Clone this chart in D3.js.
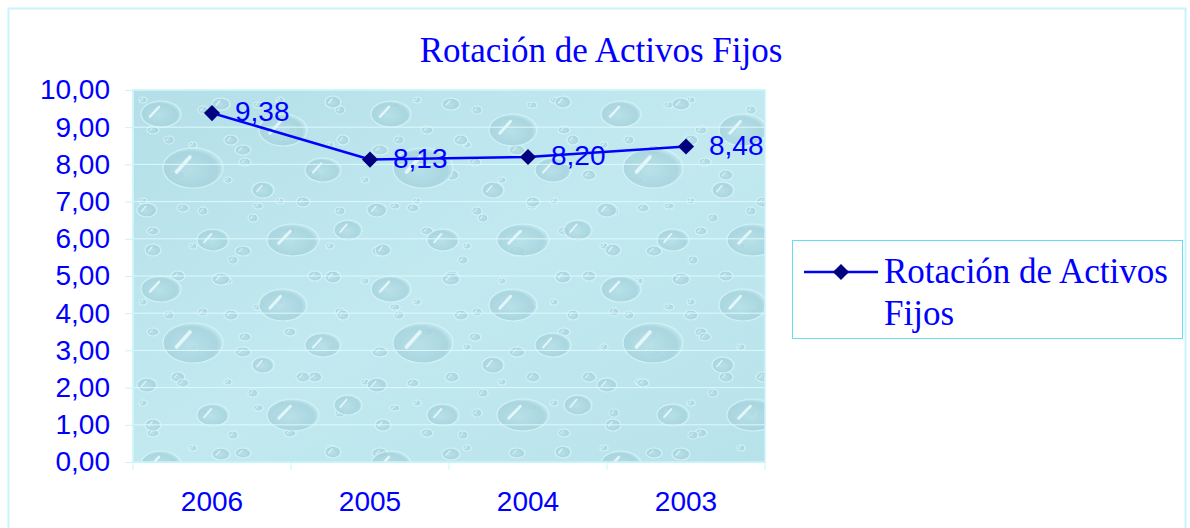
<!DOCTYPE html>
<html>
<head>
<meta charset="utf-8">
<script src="https://cdnjs.cloudflare.com/ajax/libs/d3/7.8.5/d3.min.js"></script>
<style>
  body { margin: 0; background: #fff; }
  svg { display: block; }
</style>
</head>
<body>
<div id="chart"></div>
<script>
var years = ["2006", "2005", "2004", "2003"];
var values = [9.38, 8.13, 8.20, 8.48];
var yTicks = [0, 1, 2, 3, 4, 5, 6, 7, 8, 9, 10];
var seriesName = "Rotación de Activos Fijos";

var svgWidth = 1190;
var svgHeight = 528;

var margin = { top: 90, left: 133, right: 425, bottom: 66 };
var chartWidth = svgWidth - margin.left - margin.right;
var chartHeight = svgHeight - margin.top - margin.bottom;

var blue = "#0000ff";
var navy = "#000080";
var sans = "'Liberation Sans', Arial, sans-serif";
var serif = "'Liberation Serif', 'Times New Roman', serif";
var fmt = function(v) { return d3.format(".2f")(v).replace(".", ","); };

var svg = d3.select("#chart")
  .append("svg")
  .attr("width", svgWidth)
  .attr("height", svgHeight);

// water drop texture (decoration only)
var defs = svg.append("defs");
var grad = defs.append("linearGradient").attr("id", "bg")
  .attr("x1", 0).attr("y1", 0).attr("x2", 1).attr("y2", 1);
grad.append("stop").attr("offset", "0%").attr("stop-color", "#b4dfe8");
grad.append("stop").attr("offset", "50%").attr("stop-color", "#c2e9f0");
grad.append("stop").attr("offset", "100%").attr("stop-color", "#b8e2ea");

var drop = defs.append("radialGradient").attr("id", "drop")
  .attr("cx", "45%").attr("cy", "55%").attr("r", "60%");
drop.append("stop").attr("offset", "0%").attr("stop-color", "#b6dfe7");
drop.append("stop").attr("offset", "75%").attr("stop-color", "#a4d2dc");
drop.append("stop").attr("offset", "100%").attr("stop-color", "#d2f2f7");

function addDropPattern(id, w, h, list) {
  var pat = defs.append("pattern").attr("id", id)
    .attr("patternUnits", "userSpaceOnUse")
    .attr("width", w).attr("height", h);
  list.forEach(function(d) {
    pat.append("ellipse").attr("cx", d[0]).attr("cy", d[1]).attr("rx", d[2]).attr("ry", d[3])
      .attr("fill", "url(#drop)").attr("stroke", "#d6f5f9").attr("stroke-width", 1.2)
      .attr("opacity", 0.8);
    pat.append("path")
      .attr("d", `M${d[0] - d[2] * 0.55},${d[1] + d[3] * 0.2} L${d[0] - d[2] * 0.1},${d[1] - d[3] * 0.55}`)
      .attr("fill", "none").attr("stroke", "#f0fdff").attr("stroke-width", Math.max(1, d[3] * 0.18))
      .attr("stroke-linecap", "round").attr("opacity", 0.8);
  });
}
addDropPattern("drops", 230, 175, [
  [28, 24, 20, 13], [88, 14, 9, 6], [150, 40, 24, 16], [60, 78, 30, 20],
  [130, 100, 11, 8], [14, 120, 10, 7], [98, 50, 7, 5], [200, 12, 8, 6],
  [36, 50, 5, 4], [112, 72, 6, 4], [190, 80, 18, 12], [215, 140, 14, 10],
  [160, 150, 26, 16], [80, 150, 16, 11], [20, 160, 8, 6], [120, 128, 5, 4],
  [210, 50, 6, 5], [170, 112, 7, 5], [50, 118, 6, 4], [100, 170, 5, 4]
]);
addDropPattern("drops2", 137, 101, [
  [20, 40, 6, 4], [70, 20, 5, 4], [110, 60, 8, 5], [45, 85, 7, 5],
  [95, 90, 4, 3], [125, 15, 5, 3], [10, 10, 4, 3], [60, 55, 4, 3]
]);

// outer frame
svg.append("rect")
  .attr("x", 8.5).attr("y", 8.5)
  .attr("width", 1177).attr("height", 530)
  .attr("fill", "none")
  .attr("stroke", "#c8f6fa")
  .attr("stroke-width", 2);

svg.append("text")
  .attr("x", 601)
  .attr("y", 62)
  .attr("text-anchor", "middle")
  .attr("font-family", serif)
  .attr("font-size", "35px")
  .attr("fill", blue)
  .text(seriesName);

var chartGroup = svg.append("g")
  .attr("transform", `translate(${margin.left}, ${margin.top})`);

var xBandScale = d3.scaleBand()
  .domain(years)
  .range([0, chartWidth]);

var yLinearScale = d3.scaleLinear()
  .domain([0, 10])
  .range([chartHeight, 0]);

chartGroup.append("rect")
  .attr("width", chartWidth)
  .attr("height", chartHeight)
  .attr("fill", "url(#bg)");
chartGroup.append("rect")
  .attr("width", chartWidth)
  .attr("height", chartHeight)
  .attr("fill", "url(#drops2)");
chartGroup.append("rect")
  .attr("width", chartWidth)
  .attr("height", chartHeight)
  .attr("fill", "url(#drops)");

// gridlines
chartGroup.append("g")
  .selectAll("line")
  .data(yTicks.slice(1))
  .enter()
  .append("line")
  .attr("x1", 0).attr("x2", chartWidth)
  .attr("y1", d => yLinearScale(d)).attr("y2", d => yLinearScale(d))
  .attr("stroke", "#dcfafd")
  .attr("stroke-width", 1);

chartGroup.append("rect")
  .attr("width", chartWidth)
  .attr("height", chartHeight)
  .attr("fill", "none")
  .attr("stroke", "#c8f4fa")
  .attr("stroke-width", 1.5);

var leftAxis = d3.axisLeft(yLinearScale)
  .tickValues(yTicks)
  .tickFormat(fmt)
  .tickSize(8)
  .tickPadding(15);

var yAxisG = chartGroup.append("g").call(leftAxis);
yAxisG.select(".domain").attr("stroke", "#c8f4fa");
yAxisG.selectAll(".tick line").attr("stroke", "#c8f4fa");
yAxisG.selectAll("text")
  .attr("fill", blue)
  .attr("font-family", sans)
  .attr("font-size", "28px");

var bottomAxis = d3.axisBottom(xBandScale).tickSize(0).tickPadding(29);
var xAxisG = chartGroup.append("g")
  .attr("transform", `translate(0, ${chartHeight})`)
  .call(bottomAxis);
xAxisG.select(".domain").attr("stroke", "#c8f4fa");
xAxisG.selectAll("text")
  .attr("fill", blue)
  .attr("font-family", sans)
  .attr("font-size", "28px");

// category separator ticks
chartGroup.append("g")
  .selectAll("line")
  .data(years.concat(["end"]))
  .enter()
  .append("line")
  .attr("x1", (d, i) => i * xBandScale.step())
  .attr("x2", (d, i) => i * xBandScale.step())
  .attr("y1", chartHeight).attr("y2", chartHeight + 8)
  .attr("stroke", "#c8f4fa");

var data = years.map(function(y, i) { return { year: y, value: values[i] }; });
var cx = d => xBandScale(d.year) + xBandScale.bandwidth() / 2;

chartGroup.append("path")
  .datum(data)
  .attr("fill", "none")
  .attr("stroke", blue)
  .attr("stroke-width", 2.5)
  .attr("d", d3.line().x(cx).y(d => yLinearScale(d.value)));

var diamond = d3.symbol(d3.symbolSquare, 130);

chartGroup.append("g")
  .selectAll("path")
  .data(data)
  .enter()
  .append("path")
  .attr("d", diamond)
  .attr("transform", d => `translate(${cx(d)}, ${yLinearScale(d.value)}) rotate(45)`)
  .attr("fill", navy);

chartGroup.append("g")
  .selectAll("text")
  .data(data)
  .enter()
  .append("text")
  .attr("x", d => cx(d) + 23)
  .attr("y", d => yLinearScale(d.value) + 8)
  .attr("fill", blue)
  .attr("font-family", sans)
  .attr("font-size", "28px")
  .text(d => fmt(d.value));

// legend
var legend = svg.append("g").attr("transform", "translate(792, 240)");
legend.append("rect")
  .attr("x", 0.5).attr("y", 0.5)
  .attr("width", 390).attr("height", 98)
  .attr("fill", "#fff")
  .attr("stroke", "#66def0")
  .attr("stroke-width", 1);
legend.append("line")
  .attr("x1", 12).attr("x2", 86)
  .attr("y1", 32).attr("y2", 32)
  .attr("stroke", blue).attr("stroke-width", 2.5);
legend.append("path")
  .attr("d", diamond)
  .attr("transform", "translate(49, 32) rotate(45)")
  .attr("fill", navy);
var legendText = legend.append("text")
  .attr("font-family", serif)
  .attr("font-size", "35px")
  .attr("fill", blue);
legendText.append("tspan").attr("x", 92).attr("y", 43).text("Rotación de Activos");
legendText.append("tspan").attr("x", 92).attr("y", 85).text("Fijos");
</script>
</body>
</html>
